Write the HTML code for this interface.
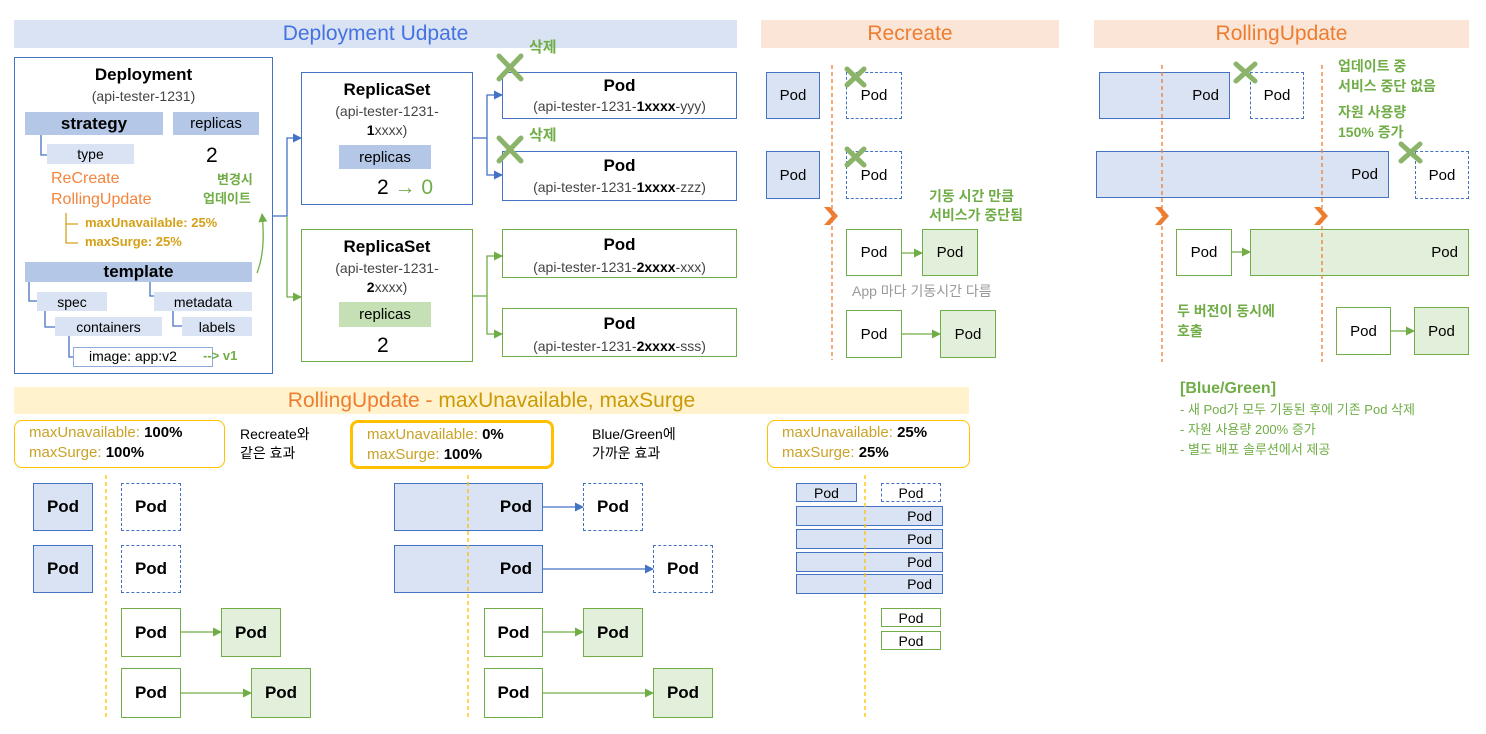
<!DOCTYPE html>
<html><head><meta charset="utf-8">
<style>
body{margin:0;width:1486px;height:734px;background:#fff;position:relative;overflow:hidden;font-family:"Liberation Sans","Noto Sans CJK KR",sans-serif;color:#000}
.a{position:absolute;box-sizing:border-box}
.b{position:absolute;box-sizing:border-box;display:flex;align-items:center;justify-content:center;text-align:center}
.bp{background:#dae3f3;border:1.5px solid #4472c4}
.gp{background:#e2efda;border:1.5px solid #70ad47}
.wp{background:#fff;border:1.5px solid #70ad47}
.dp{background:#fff;border:1.5px dashed #4472c4}
.pod{font-size:15px}
.pb{font-size:17px;font-weight:bold}
.r{justify-content:flex-end;padding-right:10px}
.t{position:absolute;white-space:nowrap;line-height:1}
.g{color:#70ad47;font-weight:bold}
.hdr{position:absolute;height:28px;top:20px;display:flex;align-items:center;justify-content:center;font-size:21px}
.sb{background:#b4c7e7}
.lb{background:#dae3f3}
.yb{border:1.5px solid #ffc000;border-radius:8px;background:#fff;font-size:15px;line-height:20px;padding:2px 0 0 14px}
.yb span{color:#c9a227}
</style></head><body>

<div class="hdr" style="left:14px;width:723px;background:#dae3f3;color:#4472e0">Deployment Udpate</div>
<div class="hdr" style="left:761px;width:298px;background:#fbe5d6;color:#ed7d31">Recreate</div>
<div class="hdr" style="left:1094px;width:375px;background:#fbe5d6;color:#ed7d31">RollingUpdate</div>

<!-- Deployment box -->
<div class="a" style="left:14px;top:57px;width:259px;height:317px;border:1.5px solid #4472c4"></div>
<div class="t" style="left:14px;width:259px;text-align:center;top:66px;font-size:17px;font-weight:bold">Deployment</div>
<div class="t" style="left:14px;width:259px;text-align:center;top:89px;font-size:14px;color:#444">(api-tester-1231)</div>
<div class="b sb" style="left:25px;top:112px;width:138px;height:23px;font-size:17px;font-weight:bold">strategy</div>
<div class="b sb" style="left:173px;top:112px;width:86px;height:23px;font-size:15px">replicas</div>
<div class="b lb" style="left:47px;top:144px;width:87px;height:20px;font-size:14px">type</div>
<div class="t" style="left:206px;top:145px;font-size:21px">2</div>
<div class="t" style="left:51px;top:171px;font-size:16px;color:#f4843c">ReCreate</div>
<div class="t" style="left:51px;top:192px;font-size:16px;color:#f4843c">RollingUpdate</div>
<div class="t g" style="left:217px;top:173px;font-size:13px">변경시</div>
<div class="t g" style="left:203px;top:192px;font-size:13px">업데이트</div>
<div class="t" style="left:85px;top:216px;font-size:13px;color:#d4a017;font-weight:bold">maxUnavailable: 25%</div>
<div class="t" style="left:85px;top:235px;font-size:13px;color:#d4a017;font-weight:bold">maxSurge: 25%</div>
<div class="b sb" style="left:25px;top:262px;width:227px;height:20px;font-size:17px;font-weight:bold">template</div>
<div class="b lb" style="left:37px;top:292px;width:70px;height:19px;font-size:14px">spec</div>
<div class="b lb" style="left:154px;top:292px;width:98px;height:19px;font-size:14px">metadata</div>
<div class="b lb" style="left:55px;top:317px;width:107px;height:19px;font-size:14px">containers</div>
<div class="b lb" style="left:182px;top:317px;width:70px;height:19px;font-size:14px">labels</div>
<div class="a" style="left:73px;top:347px;width:140px;height:20px;border:1px solid #8faadc"></div>
<div class="t" style="left:89px;top:349px;font-size:14px">image: app:v2</div>
<div class="t g" style="left:203px;top:349px;font-size:13px">--&gt; v1</div>

<!-- ReplicaSets -->
<div class="a" style="left:301px;top:72px;width:172px;height:133px;border:1.5px solid #4472c4"></div>
<div class="t" style="left:301px;width:172px;text-align:center;top:81px;font-size:17px;font-weight:bold">ReplicaSet</div>
<div class="t" style="left:301px;width:172px;text-align:center;top:104px;font-size:14px;color:#444">(api-tester-1231-</div>
<div class="t" style="left:301px;width:172px;text-align:center;top:123px;font-size:14px;color:#444"><b style="color:#000">1</b>xxxx)</div>
<div class="b sb" style="left:339px;top:145px;width:92px;height:24px;font-size:15px">replicas</div>
<div class="t" style="left:377px;top:177px;font-size:21px">2 <span style="color:#70ad47">→ 0</span></div>

<div class="a" style="left:301px;top:229px;width:172px;height:133px;border:1.5px solid #70ad47"></div>
<div class="t" style="left:301px;width:172px;text-align:center;top:238px;font-size:17px;font-weight:bold">ReplicaSet</div>
<div class="t" style="left:301px;width:172px;text-align:center;top:261px;font-size:14px;color:#444">(api-tester-1231-</div>
<div class="t" style="left:301px;width:172px;text-align:center;top:280px;font-size:14px;color:#444"><b style="color:#000">2</b>xxxx)</div>
<div class="b" style="left:339px;top:302px;width:92px;height:25px;font-size:15px;background:#c5e0b4">replicas</div>
<div class="t" style="left:377px;top:335px;font-size:21px">2</div>

<!-- Pods top -->
<div class="a" style="left:502px;top:72px;width:235px;height:47px;border:1.5px solid #4472c4"></div>
<div class="a" style="left:502px;top:151px;width:235px;height:50px;border:1.5px solid #4472c4"></div>
<div class="a" style="left:502px;top:229px;width:235px;height:49px;border:1.5px solid #70ad47"></div>
<div class="a" style="left:502px;top:308px;width:235px;height:49px;border:1.5px solid #70ad47"></div>
<div class="t" style="left:502px;width:235px;text-align:center;top:77px;font-size:17px;font-weight:bold">Pod</div>
<div class="t" style="left:502px;width:235px;text-align:center;top:99px;font-size:14px;color:#444">(api-tester-1231-<b style="color:#000">1xxxx</b>-yyy)</div>
<div class="t" style="left:502px;width:235px;text-align:center;top:157px;font-size:17px;font-weight:bold">Pod</div>
<div class="t" style="left:502px;width:235px;text-align:center;top:180px;font-size:14px;color:#444">(api-tester-1231-<b style="color:#000">1xxxx</b>-zzz)</div>
<div class="t" style="left:502px;width:235px;text-align:center;top:236px;font-size:17px;font-weight:bold">Pod</div>
<div class="t" style="left:502px;width:235px;text-align:center;top:260px;font-size:14px;color:#444">(api-tester-1231-<b style="color:#000">2xxxx</b>-xxx)</div>
<div class="t" style="left:502px;width:235px;text-align:center;top:315px;font-size:17px;font-weight:bold">Pod</div>
<div class="t" style="left:502px;width:235px;text-align:center;top:339px;font-size:14px;color:#444">(api-tester-1231-<b style="color:#000">2xxxx</b>-sss)</div>
<div class="t g" style="left:529px;top:40px;font-size:15px">삭제</div>
<div class="t g" style="left:529px;top:128px;font-size:15px">삭제</div>

<!-- Recreate -->
<div class="b bp pod" style="left:766px;top:72px;width:54px;height:47px">Pod</div>
<div class="b dp pod" style="left:846px;top:72px;width:56px;height:47px">Pod</div>
<div class="b bp pod" style="left:766px;top:151px;width:54px;height:48px">Pod</div>
<div class="b dp pod" style="left:846px;top:151px;width:56px;height:48px">Pod</div>
<div class="t g" style="left:929px;top:189px;font-size:14px">기동 시간 만큼</div>
<div class="t g" style="left:929px;top:208px;font-size:14px">서비스가 중단됨</div>
<div class="b wp pod" style="left:846px;top:229px;width:56px;height:47px">Pod</div>
<div class="b gp pod" style="left:922px;top:229px;width:56px;height:47px">Pod</div>
<div class="t" style="left:852px;top:284px;font-size:14px;color:#999">App 마다 기동시간 다름</div>
<div class="b wp pod" style="left:846px;top:310px;width:56px;height:48px">Pod</div>
<div class="b gp pod" style="left:940px;top:310px;width:56px;height:48px">Pod</div>

<!-- RollingUpdate right -->
<div class="b bp pod r" style="left:1099px;top:72px;width:131px;height:47px">Pod</div>
<div class="b dp pod" style="left:1250px;top:72px;width:54px;height:47px">Pod</div>
<div class="b bp pod r" style="left:1096px;top:151px;width:293px;height:47px">Pod</div>
<div class="b dp pod" style="left:1415px;top:151px;width:54px;height:48px">Pod</div>
<div class="b wp pod" style="left:1176px;top:229px;width:56px;height:47px">Pod</div>
<div class="b gp pod r" style="left:1250px;top:229px;width:219px;height:47px">Pod</div>
<div class="b wp pod" style="left:1336px;top:307px;width:55px;height:48px">Pod</div>
<div class="b gp pod" style="left:1414px;top:307px;width:55px;height:48px">Pod</div>
<div class="t g" style="left:1338px;top:59px;font-size:14px">업데이트 중</div>
<div class="t g" style="left:1338px;top:79px;font-size:14px">서비스 중단 없음</div>
<div class="t g" style="left:1338px;top:105px;font-size:14px">자원 사용량</div>
<div class="t g" style="left:1338px;top:125px;font-size:14px">150% 증가</div>
<div class="t g" style="left:1177px;top:304px;font-size:14px">두 버전이 동시에</div>
<div class="t g" style="left:1177px;top:324px;font-size:14px">호출</div>
<div class="t g" style="left:1180px;top:381px;font-size:16px">[Blue/Green]</div>
<div class="t" style="left:1180px;top:403px;font-size:13px;color:#70ad47">- 새 Pod가 모두 기동된 후에 기존 Pod 삭제</div>
<div class="t" style="left:1180px;top:423px;font-size:13px;color:#70ad47">- 자원 사용량 200% 증가</div>
<div class="t" style="left:1180px;top:443px;font-size:13px;color:#70ad47">- 별도 배포 솔루션에서 제공</div>

<!-- bottom section -->
<div class="a" style="left:14px;top:387px;width:955px;height:27px;background:#fff2cc"></div>
<div class="t" style="left:14px;width:955px;text-align:center;top:390px;font-size:21px;color:#ed7d31">RollingUpdate - <span style="color:#c99a06">maxUnavailable, maxSurge</span></div>
<div class="a yb" style="left:14px;top:420px;width:211px;height:48px"><span>maxUnavailable:</span> <b>100%</b><br><span>maxSurge:</span> <b>100%</b></div>
<div class="t" style="left:240px;top:427px;font-size:14px">Recreate와</div>
<div class="t" style="left:240px;top:446px;font-size:14px">같은 효과</div>
<div class="a yb" style="left:350px;top:420px;width:204px;height:49px;border-width:3px"><span>maxUnavailable:</span> <b>0%</b><br><span>maxSurge:</span> <b>100%</b></div>
<div class="t" style="left:592px;top:427px;font-size:14px">Blue/Green에</div>
<div class="t" style="left:592px;top:446px;font-size:14px">가까운 효과</div>
<div class="a yb" style="left:767px;top:420px;width:203px;height:48px"><span>maxUnavailable:</span> <b>25%</b><br><span>maxSurge:</span> <b>25%</b></div>

<div class="b bp pb" style="left:33px;top:483px;width:60px;height:48px">Pod</div>
<div class="b bp pb" style="left:33px;top:545px;width:60px;height:48px">Pod</div>
<div class="b dp pb" style="left:121px;top:483px;width:60px;height:48px">Pod</div>
<div class="b dp pb" style="left:121px;top:545px;width:60px;height:48px">Pod</div>
<div class="b wp pb" style="left:121px;top:608px;width:60px;height:49px">Pod</div>
<div class="b gp pb" style="left:221px;top:608px;width:60px;height:49px">Pod</div>
<div class="b wp pb" style="left:121px;top:668px;width:60px;height:50px">Pod</div>
<div class="b gp pb" style="left:251px;top:668px;width:60px;height:50px">Pod</div>

<div class="b bp pb r" style="left:394px;top:483px;width:149px;height:48px">Pod</div>
<div class="b bp pb r" style="left:394px;top:545px;width:149px;height:48px">Pod</div>
<div class="b dp pb" style="left:583px;top:483px;width:60px;height:48px">Pod</div>
<div class="b dp pb" style="left:653px;top:545px;width:60px;height:48px">Pod</div>
<div class="b wp pb" style="left:484px;top:608px;width:59px;height:49px">Pod</div>
<div class="b gp pb" style="left:583px;top:608px;width:60px;height:49px">Pod</div>
<div class="b wp pb" style="left:484px;top:668px;width:59px;height:50px">Pod</div>
<div class="b gp pb" style="left:653px;top:668px;width:60px;height:50px">Pod</div>

<div class="b bp pod" style="left:796px;top:483px;width:61px;height:19px;font-size:14px">Pod</div>
<div class="b dp pod" style="left:881px;top:483px;width:60px;height:19px;font-size:14px">Pod</div>
<div class="b bp pod r" style="left:796px;top:506px;width:147px;height:20px;font-size:14px">Pod</div>
<div class="b bp pod r" style="left:796px;top:529px;width:147px;height:20px;font-size:14px">Pod</div>
<div class="b bp pod r" style="left:796px;top:552px;width:147px;height:20px;font-size:14px">Pod</div>
<div class="b bp pod r" style="left:796px;top:574px;width:147px;height:20px;font-size:14px">Pod</div>
<div class="b wp pod" style="left:881px;top:608px;width:60px;height:19px;font-size:14px">Pod</div>
<div class="b wp pod" style="left:881px;top:631px;width:60px;height:19px;font-size:14px">Pod</div>

<svg class="a" style="left:0;top:0" width="1486" height="734">
<defs>
<marker id="ab" markerWidth="9" markerHeight="9" refX="8" refY="4.5" orient="auto" markerUnits="userSpaceOnUse"><path d="M0,0 L9,4.5 L0,9z" fill="#4472c4"/></marker>
<marker id="ag" markerWidth="9" markerHeight="9" refX="8" refY="4.5" orient="auto" markerUnits="userSpaceOnUse"><path d="M0,0 L9,4.5 L0,9z" fill="#70ad47"/></marker>
</defs>
<g fill="none" stroke-width="1.3">
<path d="M41,135 V155 H47" stroke="#4472c4"/>
<path d="M66,213 V243 H78 M66,224 H78" stroke="#d4a017"/>
<path d="M29,282 V301 H37 M150,282 V296 H154 M45,311 V327 H55 M173,311 V326 H182 M69,336 V357 H73" stroke="#4472c4"/>
<path d="M257,273 Q266,250 262,214" stroke="#70ad47" marker-end="url(#ag)"/>
<path d="M273,216 H287" stroke="#4472c4"/>
<path d="M287,216 V138 H301" stroke="#4472c4" marker-end="url(#ab)"/>
<path d="M287,216 V297 H301" stroke="#70ad47" marker-end="url(#ag)"/>
<path d="M473,138 H487" stroke="#4472c4"/>
<path d="M487,138 V95 H502" stroke="#4472c4" marker-end="url(#ab)"/>
<path d="M487,138 V175 H502" stroke="#4472c4" marker-end="url(#ab)"/>
<path d="M473,296 H487" stroke="#70ad47"/>
<path d="M487,296 V256 H502" stroke="#70ad47" marker-end="url(#ag)"/>
<path d="M487,296 V334 H502" stroke="#70ad47" marker-end="url(#ag)"/>
<path d="M832,65 V360" stroke="#ed7d31" stroke-dasharray="4,3"/>
<path d="M902,253 H922" stroke="#70ad47" marker-end="url(#ag)"/>
<path d="M902,334 H940" stroke="#70ad47" marker-end="url(#ag)"/>
<path d="M1162,65 V362 M1322,65 V362" stroke="#ed7d31" stroke-dasharray="4,3"/>
<path d="M1232,252 H1250" stroke="#70ad47" marker-end="url(#ag)"/>
<path d="M1391,331 H1414" stroke="#70ad47" marker-end="url(#ag)"/>
<path d="M106,475 V718 M468,475 V718 M865,475 V718" stroke="#ffc000" stroke-dasharray="4,3"/>
<path d="M181,632 H221" stroke="#70ad47" marker-end="url(#ag)"/>
<path d="M181,693 H251" stroke="#70ad47" marker-end="url(#ag)"/>
<path d="M543,632 H583" stroke="#70ad47" marker-end="url(#ag)"/>
<path d="M543,693 H653" stroke="#70ad47" marker-end="url(#ag)"/>
<path d="M543,507 H583" stroke="#4472c4" marker-end="url(#ab)"/>
<path d="M543,569 H653" stroke="#4472c4" marker-end="url(#ab)"/>
</g>
<g fill="#ed7d31">
<path d="M824,207 h6 l8,9 l-8,9 h-6 l8,-9z"/>
<path d="M1155,207 h6 l8,9 l-8,9 h-6 l8,-9z"/>
<path d="M1314,207 h6 l8,9 l-8,9 h-6 l8,-9z"/>
</g>
<g stroke="#8bb46a" stroke-width="5" stroke-linecap="round">
<path d="M499,56 L521,79 M521,56 L499,79"/>
<path d="M499,138 L521,161 M521,138 L499,161"/>
<path d="M847,69 L864,85 M864,69 L847,85"/>
<path d="M847,149 L864,165 M864,149 L847,165"/>
<path d="M1236,64 L1255,81 M1255,64 L1236,81"/>
<path d="M1401,144 L1420,161 M1420,144 L1401,161"/>
</g>
</svg>
</body></html>
